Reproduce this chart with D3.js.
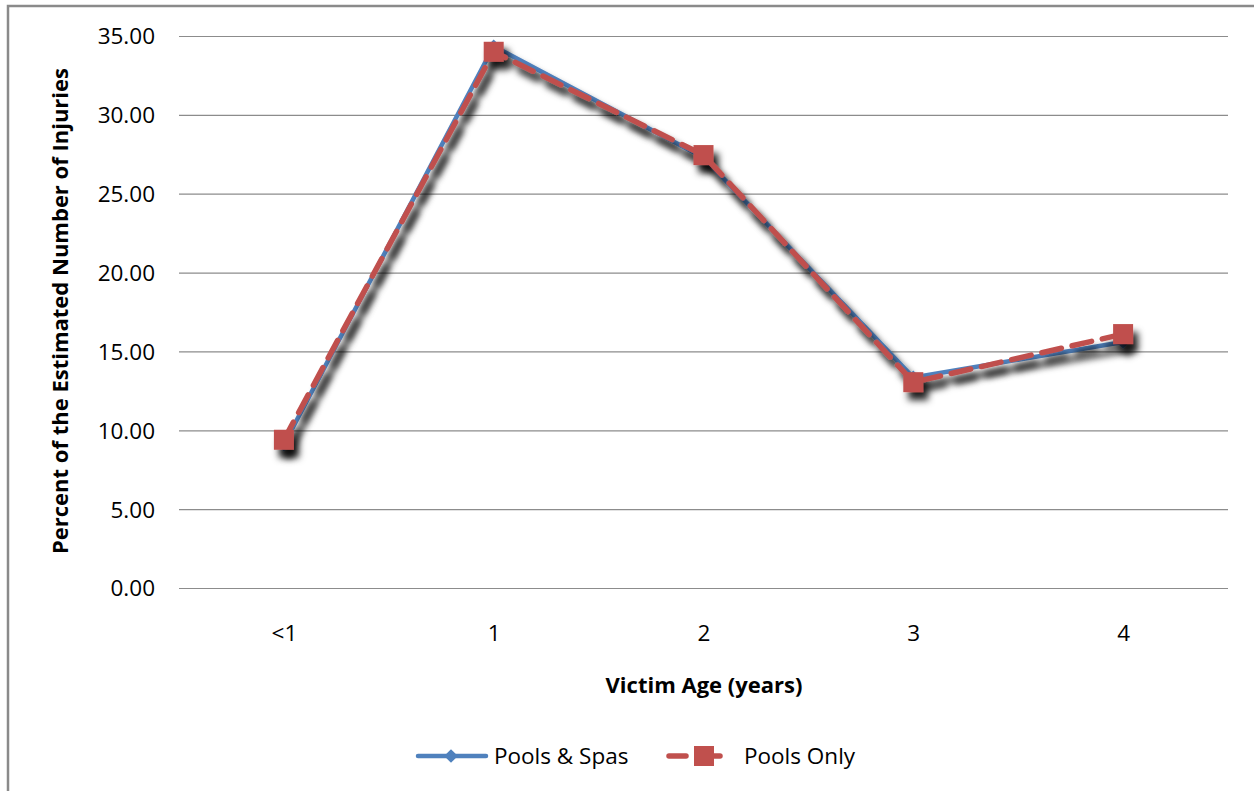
<!DOCTYPE html>
<html><head><meta charset="utf-8">
<script src="https://cdn.jsdelivr.net/npm/d3@7"></script>
<style>body{margin:0;background:#fff}svg{display:block}text{font-family:"Open Sans",sans-serif;fill:#000}</style>
</head><body>
<svg id="c" width="1254" height="791"></svg>
<script>
const categories = ["<1","1","2","3","4"];
const poolsSpas = [9.1, 34.35, 27.3, 13.35, 15.6];
const poolsOnly = [9.4, 34.0, 27.45, 13.05, 16.1];
const yTicks = [0,5,10,15,20,25,30,35];
const seriesNames = ["Pools & Spas","Pools Only"];

const svg = d3.select("#c");
const defs = svg.append("defs");
const f = defs.append("filter").attr("id","sh").attr("x","-20%").attr("y","-20%").attr("width","140%").attr("height","140%");
f.append("feDropShadow").attr("dx",5).attr("dy",8).attr("stdDeviation",3.5).attr("flood-color","#000").attr("flood-opacity",0.85);

svg.append("rect").attr("x",8).attr("y",6).attr("width",1260).attr("height",800)
  .attr("fill","none").attr("stroke","#8a8a8a").attr("stroke-width",2.5);

const L=179,R=1228,T=36,B=588;
const x = d3.scalePoint().domain(categories).range([L,R]).padding(0.5);
const y = d3.scaleLinear().domain([0,35]).range([B,T]);

const yAxis = svg.append("g").attr("transform",`translate(${L},0)`)
  .call(d3.axisLeft(y).tickValues(yTicks).tickFormat(d3.format(".2f")).tickSize(-(R-L)).tickPadding(24));
yAxis.select(".domain").remove();
yAxis.selectAll("line").attr("stroke","#8c8c8c").attr("stroke-width",1.2);
yAxis.selectAll("text").attr("font-size",22.5).attr("fill","#222").attr("font-family","'Open Sans',sans-serif").attr("dy","0.35em");

const xAxis = svg.append("g").attr("transform",`translate(0,${B})`)
  .call(d3.axisBottom(x).tickSize(0).tickPadding(37));
xAxis.select(".domain").remove();
xAxis.selectAll("text").attr("font-size",22.5).attr("fill","#222").attr("font-family","'Open Sans',sans-serif");

svg.append("text").attr("transform","translate(68,311) rotate(-90)").attr("text-anchor","middle")
  .attr("font-size",22).attr("font-weight","bold").text("Percent of the Estimated Number of Injuries");
svg.append("text").attr("x",704).attr("y",693).attr("text-anchor","middle")
  .attr("font-size",22).attr("font-weight","bold").text("Victim Age (years)");

const line = d3.line().x((d,i)=>x(categories[i])).y(d=>y(d));
const blue="#4f81bd", red="#c0504d";

const g1 = svg.append("g").attr("filter","url(#sh)");
g1.append("path").datum(poolsSpas).attr("d",line).attr("fill","none").attr("stroke",blue).attr("stroke-width",4.5).attr("stroke-linejoin","round");
g1.selectAll("path.dm").data(poolsSpas).join("path").attr("class","dm")
  .attr("d",d3.symbol(d3.symbolDiamond2,120)())
  .attr("transform",(d,i)=>`translate(${x(categories[i])},${y(d)})`).attr("fill",blue);

const g2 = svg.append("g").attr("filter","url(#sh)");
g2.append("path").datum(poolsOnly).attr("d",line).attr("fill","none").attr("stroke",red).attr("stroke-width",5.5)
  .attr("stroke-dasharray","20,11").attr("stroke-linecap","round");
g2.selectAll("rect.sq").data(poolsOnly).join("rect").attr("class","sq")
  .attr("x",(d,i)=>x(categories[i])-10).attr("y",d=>y(d)-10).attr("width",20).attr("height",20).attr("fill",red);

// legend
const lg = svg.append("g");
lg.append("line").attr("x1",418).attr("x2",486).attr("y1",756).attr("y2",756).attr("stroke",blue).attr("stroke-width",4.5).attr("stroke-linecap","round");
lg.append("path").attr("d",d3.symbol(d3.symbolDiamond2,120)()).attr("transform","translate(451,756)").attr("fill",blue);
lg.append("text").attr("x",494).attr("y",764).attr("font-size",22.5).attr("fill","#222").text(seriesNames[0]);
lg.append("line").attr("x1",669).attr("x2",686).attr("y1",756).attr("y2",756).attr("stroke",red).attr("stroke-width",5.5).attr("stroke-linecap","round");
lg.append("line").attr("x1",714).attr("x2",720).attr("y1",756).attr("y2",756).attr("stroke",red).attr("stroke-width",5.5).attr("stroke-linecap","round");
lg.append("rect").attr("x",694).attr("y",746).attr("width",20).attr("height",20).attr("fill",red);
lg.append("text").attr("x",744).attr("y",764).attr("font-size",22.5).attr("fill","#222").text(seriesNames[1]);
</script>
</body></html>
